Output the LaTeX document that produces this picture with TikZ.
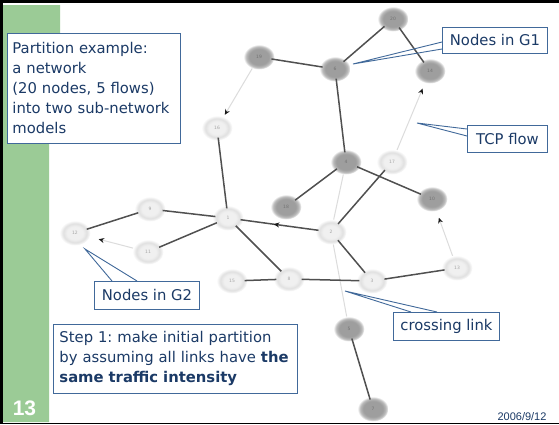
\documentclass[tikz,border=0pt]{standalone}
\usepackage{fontspec}
\setmainfont{DejaVu Sans}
\newfontfamily\arialfont{Liberation Sans}
\usetikzlibrary{shapes.geometric,arrows.meta,decorations.markings}
\definecolor{slidegreen}{HTML}{9BCB96}
\definecolor{txtblue}{HTML}{1B3A66}
\definecolor{boxblue}{HTML}{41699A}
\definecolor{edgedark}{HTML}{505050}
\definecolor{edgefaint}{HTML}{DCDCDC}
\pgfdeclareradialshading{darkglow}{\pgfpointorigin}{color(0bp)=(black!38); color(16bp)=(black!38); color(21bp)=(black!26); color(25bp)=(white); color(50bp)=(white)}
\pgfdeclareradialshading{lightglow}{\pgfpointorigin}{color(0bp)=(black!6); color(13bp)=(black!6); color(19bp)=(black!12); color(25bp)=(white); color(50bp)=(white)}
\tikzset{
  gone/.style={ellipse, minimum width=31pt, minimum height=25pt, inner sep=0pt, shade, shading=darkglow, text=black!55, font=\fontsize{4.5}{5}\selectfont},
  gtwo/.style={ellipse, minimum width=31pt, minimum height=25pt, inner sep=0pt, shade, shading=lightglow, text=black!35, font=\fontsize{4.5}{5}\selectfont},
  edge/.style={draw=edgedark, line width=1.5pt, shorten <=-3pt, shorten >=-3pt},
  flow/.style={draw=edgefaint, line width=1pt},
  flowtip/.style={-{Stealth[length=5.5pt,width=5pt,color=black!90]}},
  callbox/.style={draw=boxblue, line width=0.9pt, fill=white, text=txtblue, font=\fontsize{14.8}{20}\selectfont, inner sep=0pt},
  callline/.style={draw=boxblue, line width=0.9pt},
  midarrow/.style={postaction={decorate}, decoration={markings, mark=at position #1 with {\arrow{Stealth[length=5.5pt,width=5pt,color=black!90]}}}}
}
\frenchspacing
\begin{document}
\begin{tikzpicture}[x=1pt,y=-1pt]
\useasboundingbox (0,0) rectangle (559,424);
\fill[white] (0,0) rectangle (559,424);
% slide decoration
\fill[slidegreen] (2.5,5) -- (60,5) -- (60,40) -- (49,40) -- (49,422) -- (2.5,422) -- cycle;
\fill[black] (0,0) rectangle (559,3);
\fill[black] (0,0) rectangle (2.5,424);
\fill[black] (0,422.5) rectangle (559,424);
\node[text=white, font=\arialfont\bfseries\fontsize{21}{24}\selectfont] (pgnum) at (24.5,408.5) {13};
\node[text=txtblue, font=\arialfont\fontsize{11}{13}\selectfont] (date) at (522,416.5) {2006/9/12};

% network nodes
\node[gone] (n20) at (393,19) {20};
\node[gone] (n19) at (259,57) {19};
\node[gone] (n6) at (335,69) {6};
\node[gone] (n14) at (430,71) {14};
\node[gtwo] (n16) at (217,128) {16};
\node[gone] (n4) at (346,162) {4};
\node[gtwo] (n17) at (392,162) {17};
\node[gone] (n18) at (286,207) {18};
\node[gone] (n10) at (432,199) {10};
\node[gtwo] (n2) at (331,232) {2};
\node[gtwo] (n1) at (228,218) {1};
\node[gtwo] (n9) at (150,209) {9};
\node[gtwo] (n12) at (75,233) {12};
\node[gtwo] (n11) at (148,252) {11};
\node[gtwo] (n15) at (232,281) {15};
\node[gtwo] (n8) at (289,279) {8};
\node[gtwo] (n3) at (372,281) {3};
\node[gtwo] (n13) at (457,268) {13};
\node[gone] (n5) at (349,329) {5};
\node[gone] (n7) at (373,409) {7};

% faint flow lines
\draw[flow, flowtip, shorten >=2pt] (n19) -- (n16);
\draw[flow, flowtip, shorten >=6pt] (n17) -- (n14);
\draw[flow, flowtip, shorten >=7pt] (n13) -- (n10);
\draw[flow, flowtip, shorten >=9pt] (n11) -- (n12);
\draw[flow] (n4) -- (n2);
\draw[flow] (n2) -- (n5);

% links
\draw[edge] (n19) -- (n6);
\draw[edge] (n6) -- (n20);
\draw[edge] (n20) -- (n14);
\draw[edge] (n6) -- (n4);
\draw[edge] (n4) -- (n18);
\draw[edge] (n4) -- (n10);
\draw[edge] (n17) -- (n2);
\draw[edge] (n16) -- (n1);
\draw[edge] (n12) -- (n9);
\draw[edge] (n9) -- (n1);
\draw[edge] (n11) -- (n1);
\draw[edge, midarrow=0.58] (n2) -- (n1);
\draw[edge] (n1) -- (n8);
\draw[edge] (n2) -- (n3);
\draw[edge] (n15) -- (n8);
\draw[edge] (n8) -- (n3);
\draw[edge] (n3) -- (n13);
\draw[edge] (n5) -- (n7);

% text boxes
\node[callbox, anchor=north west, text width=163pt, align=left, inner xsep=5pt, minimum height=110pt] (intro) at (7,33)
  {Partition example:\\a network\\(20 nodes, 5 flows)\\into two sub-network\\models};
\node[callbox, anchor=north west, text width=232pt, align=left, inner xsep=6pt, minimum height=69pt] (step) at (53,324)
  {Step 1: make initial partition\\by assuming all links have \textbf{the}\\\textbf{same traffic intensity}};

% callouts
\node[callbox, anchor=north west, minimum width=105pt, minimum height=26pt] (cg1) at (442,27) {Nodes in G1};
\coordinate (tg1) at (353,64);
\draw[callline] ([yshift=-15pt]cg1.north west) -- (tg1) -- ([yshift=-22pt]cg1.north west);

\node[callbox, anchor=north west, minimum width=80pt, minimum height=27pt] (ctcp) at (467,125) {TCP flow};
\coordinate (ttcp) at (417,123);
\draw[callline] ([yshift=-4pt]ctcp.north west) -- (ttcp) -- ([yshift=-11pt]ctcp.north west);

\node[callbox, anchor=north west, minimum width=105pt, minimum height=28pt] (cg2) at (94,281) {Nodes in G2};
\coordinate (tg2) at (85,249);
\draw[callline] ([xshift=18pt]cg2.north west) -- (tg2) -- ([xshift=43pt]cg2.north west);

\node[callbox, anchor=north west, minimum width=106pt, minimum height=28pt] (ccross) at (393,312) {crossing link};
\coordinate (tcross) at (345,291);
\draw[callline] ([xshift=18pt]ccross.north west) -- (tcross) -- ([xshift=44pt]ccross.north west);
\end{tikzpicture}
\end{document}
